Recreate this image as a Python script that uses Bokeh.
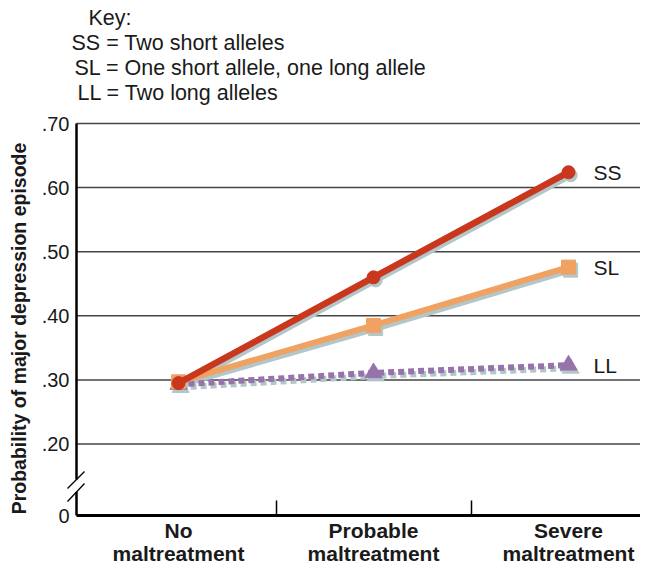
import math
from bokeh.plotting import figure
from bokeh.models import Range1d, FixedTicker, Label, ColumnDataSource
from bokeh.transform import dodge
from bokeh.core.properties import value
from bokeh.embed import file_html
from bokeh.resources import INLINE

# ---- data ----
categories = ["No\nmaltreatment", "Probable\nmaltreatment", "Severe\nmaltreatment"]
x_pos = [0, 1, 2]
ss = [0.295, 0.460, 0.624]
sl = [0.297, 0.385, 0.476]
ll = [0.293, 0.311, 0.323]
series_names = ["SS", "SL", "LL"]
y_ticks = [0.0885, 0.2, 0.3, 0.4, 0.5, 0.6, 0.7]
y_tick_labels = ["0", ".20", ".30", ".40", ".50", ".60", ".70"]
key_lines = ["Key:", "SS = Two short alleles",
             "SL = One short allele, one long allele", "LL = Two long alleles"]
y_title = "Probability of major depression episode"

FONT = "Liberation Sans"
TXT = "#1a1a1a"
RED = "#c9371d"
ORANGE = "#f0a262"
PURPLE = "#9673ab"
SHADOW = "#b3c6c9"

# ---- layout (pixels) ----
W, H = 640, 567
AXIS_Y = 515                # canvas y of x-axis
PLOT_TOP = 123              # canvas y of the .70 line
AXIS_X = 76                 # canvas x of the y-axis
X0_PX, X_STEP = 178, 195    # canvas x of first category, spacing
PPU = (AXIS_Y - PLOT_TOP) / (y_ticks[-1] - y_ticks[0])

x_lo = (0 - X0_PX) / X_STEP
x_hi = (W - X0_PX) / X_STEP
x_axis = (AXIS_X - X0_PX) / X_STEP
y_hi = y_ticks[-1] + PLOT_TOP / PPU
y_lo = y_ticks[0] - (H - AXIS_Y) / PPU

def px_x(px):   # canvas px -> data x
    return (px - X0_PX) / X_STEP

def up_y(px):   # px above the x-axis -> data y
    return y_ticks[0] + px / PPU

p = figure(width=W, height=H, output_backend="svg", toolbar_location=None,
           x_range=Range1d(x_lo, x_hi), y_range=Range1d(y_lo, y_hi),
           min_border=0)
p.outline_line_color = None
p.background_fill_color = "white"

# x axis, drawn at the bottom of the value scale
p.xaxis.fixed_location = y_ticks[0]
p.xaxis.ticker = FixedTicker(ticks=x_pos, minor_ticks=[0.5, 1.5])
p.xaxis.bounds = (x_axis, x_hi)
p.xaxis.major_label_overrides = {x: c for x, c in zip(x_pos, categories)}
p.xaxis.major_tick_in = 0
p.xaxis.major_tick_out = 0
p.xaxis.minor_tick_in = 15
p.xaxis.minor_tick_out = 0
p.xaxis.minor_tick_line_color = "black"
p.xaxis.minor_tick_line_width = 1.5
p.xaxis.axis_line_width = 3
p.xaxis.axis_line_color = "black"
p.xaxis.major_label_text_font = FONT
p.xaxis.major_label_text_font_size = "21px"
p.xaxis.major_label_text_font_style = "bold"
p.xaxis.major_label_text_color = TXT
p.xaxis.major_label_text_line_height = 1.0
p.xaxis.major_label_standoff = 3

# y axis, drawn at a fixed location inside the frame (line drawn below, with a break)
p.yaxis.fixed_location = x_axis
p.yaxis.ticker = FixedTicker(ticks=y_ticks)
p.yaxis.bounds = (y_ticks[0], y_ticks[-1])
p.yaxis.major_label_overrides = {t: l for t, l in zip(y_ticks, y_tick_labels)}
p.yaxis.major_tick_in = 0
p.yaxis.major_tick_out = 0
p.yaxis.minor_tick_line_color = None
p.yaxis.axis_line_color = None
p.yaxis.major_label_text_font = FONT
p.yaxis.major_label_text_font_size = "20px"
p.yaxis.major_label_text_color = TXT
p.yaxis.major_label_standoff = 7

# grid lines (from the axis to the right edge)
p.xgrid.grid_line_color = None
p.ygrid.grid_line_color = None
p.segment(x0=[x_axis] * (len(y_ticks) - 1), x1=[x_hi] * (len(y_ticks) - 1),
          y0=y_ticks[1:], y1=y_ticks[1:], line_color="#444444", line_width=1.5)

# y-axis line with a break, and the two break slashes
p.segment(x0=[x_axis, x_axis], x1=[x_axis, x_axis],
          y0=[y_ticks[0], up_y(36)], y1=[up_y(23.5), y_ticks[-1]],
          line_color="black", line_width=2.5)
p.segment(x0=[px_x(67), px_x(67)], x1=[px_x(84), px_x(84)],
          y0=[up_y(27), up_y(14)], y1=[up_y(44), up_y(32)],
          line_color="black", line_width=1.3)

# data sources
src = ColumnDataSource(dict(x=x_pos, ss=ss, sl=sl, ll=ll))
dx, dy = 0.011, -0.0048

# shadows
for col, dash in (("ll", "6 4"), ("sl", "solid"), ("ss", "solid")):
    p.line(dodge("x", dx), dodge(col, dy), source=src, line_color=SHADOW,
           line_width=6, line_dash=dash)
p.scatter(dodge("x", dx), dodge("ll", dy), source=src, marker="triangle",
          size=17, color=SHADOW)
p.scatter(dodge("x", dx), dodge("sl", dy), source=src, marker="square",
          size=14, color=SHADOW)
p.scatter(dodge("x", dx), dodge("ss", dy), source=src, marker="circle",
          size=13, color=SHADOW)

# series
p.line("x", "ll", source=src, line_color=PURPLE, line_width=6, line_dash="6 4")
p.scatter("x", "ll", source=src, marker="triangle", size=17, color=PURPLE)
p.line("x", "sl", source=src, line_color=ORANGE, line_width=6)
p.scatter("x", "sl", source=src, marker="square", size=14, color=ORANGE)
p.line("x", "ss", source=src, line_color=RED, line_width=6.5)
p.scatter("x", "ss", source=src, marker="circle", size=13, color=RED)

# end labels
lab = ColumnDataSource(dict(x=[x_pos[-1]] * 3, y=[ss[-1], sl[-1], ll[-1]],
                            t=series_names))
p.text("x", "y", text="t", source=lab, x_offset=25, text_baseline="middle",
       text_font=value(FONT), text_font_size="21px", text_color=TXT)

# y-axis title
p.add_layout(Label(x=18, y=H - 328, x_units="screen", y_units="screen",
                   text=y_title, angle=math.pi / 2, text_align="center",
                   text_baseline="middle", text_font=FONT, text_font_size="19.5px",
                   text_font_style="bold", text_color=TXT))

# key
key_x = [88, 71, 74, 77]
key_y = [17, 42, 67, 92]
for t, kx, ky in zip(key_lines, key_x, key_y):
    p.add_layout(Label(x=kx, y=H - ky, x_units="screen",
                       y_units="screen", text=t, text_font=FONT,
                       text_font_size="21.5px", text_color=TXT,
                       text_baseline="middle"))

open("out.html", "w").write(file_html(p, INLINE))
